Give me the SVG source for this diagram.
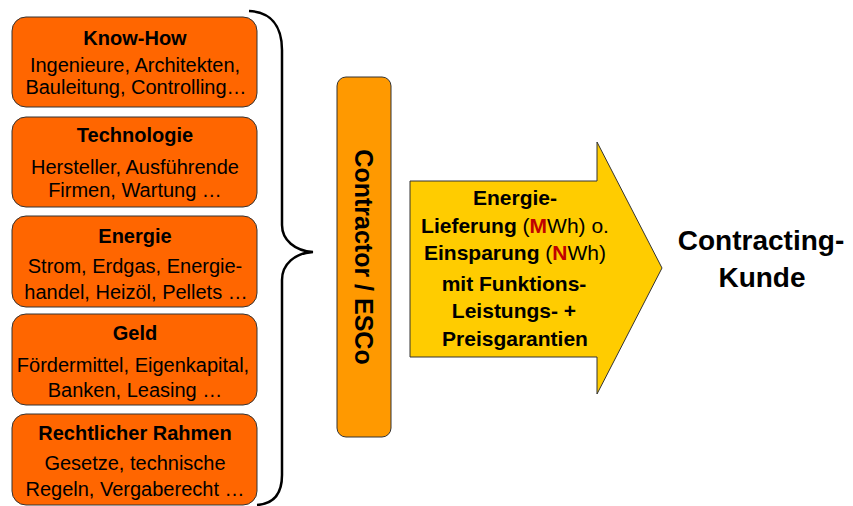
<svg xmlns="http://www.w3.org/2000/svg" width="853" height="506" viewBox="0 0 853 506">
<style>
text{font-family:"Liberation Sans",Arial,sans-serif;fill:#000;text-anchor:middle}
.box{fill:#FF6600;stroke:#333;stroke-width:1}
.t{font-size:20px;font-weight:bold}
.b{font-size:20px}
.arr{font-size:21px;font-weight:bold}
.n{font-weight:normal}
.red{fill:#C00000}
</style>
<rect width="853" height="506" fill="#fff"/>
<g id="knowhow">
<rect class="box" x="12" y="17" width="245" height="90" rx="14"/>
<text class="t" x="135" y="45">Know-How</text>
<text class="b" x="135" y="72">Ingenieure, Architekten,</text>
<text class="b" x="136" y="94">Bauleitung, Controlling…</text>
</g>
<g id="technologie">
<rect class="box" x="12" y="117" width="245" height="90" rx="14"/>
<text class="t" x="135" y="142">Technologie</text>
<text class="b" x="135" y="174">Hersteller, Ausführende</text>
<text class="b" x="135" y="197">Firmen, Wartung …</text>
</g>
<g id="energie">
<rect class="box" x="12" y="216" width="245" height="91" rx="14"/>
<text class="t" x="135" y="243">Energie</text>
<text class="b" x="135" y="273">Strom, Erdgas, Energie-</text>
<text class="b" x="136" y="299">handel, Heizöl, Pellets …</text>
</g>
<g id="geld">
<rect class="box" x="12" y="314" width="245" height="91" rx="14"/>
<text class="t" x="135" y="340">Geld</text>
<text class="b" x="133" y="372">Fördermittel, Eigenkapital,</text>
<text class="b" x="135" y="397">Banken, Leasing …</text>
</g>
<g id="recht">
<rect class="box" x="12" y="414" width="245" height="91" rx="14"/>
<text class="t" x="135" y="440">Rechtlicher Rahmen</text>
<text class="b" x="135" y="470">Gesetze, technische</text>
<text class="b" x="135" y="496">Regeln, Vergaberecht …</text>
</g>
<g id="connectors">
<path d="M249,11 C270,12 282,25 282,50 L282,225 C282,240 295,251 313,252 C295,253 282,264 282,280 L282,475 C282,495 272,504 257,505" fill="none" stroke="#000" stroke-width="2.5"/>
</g>
<g id="contractor">
<rect x="337" y="77" width="54" height="360" rx="9" fill="#FF9900" stroke="#333" stroke-width="1"/>
<text transform="translate(364,257) rotate(90)" y="9" style="font-size:25px;font-weight:bold">Contractor / ESCo</text>
</g>
<g id="leistung">
<polygon points="410,181 597,181 597,142 662,268 597,394 597,357 410,357" fill="#FFCC00" stroke="#333" stroke-width="1"/>
<text class="arr" x="515" y="205">Energie-</text>
<text class="arr" x="515" y="233">Lieferung <tspan class="n">(</tspan><tspan class="red">M</tspan><tspan class="n">Wh) o.</tspan></text>
<text class="arr" x="515" y="260">Einsparung <tspan class="n">(</tspan><tspan class="red">N</tspan><tspan class="n">Wh)</tspan></text>
<text class="arr" x="514" y="291">mit Funktions-</text>
<text class="arr" x="514" y="318">Leistungs- +</text>
<text class="arr" x="515" y="346">Preisgarantien</text>
</g>
<g id="kunde">
<text x="761" y="250" style="font-size:28px;font-weight:bold">Contracting-</text>
<text x="762" y="287" style="font-size:28px;font-weight:bold">Kunde</text>
</g>
</svg>
